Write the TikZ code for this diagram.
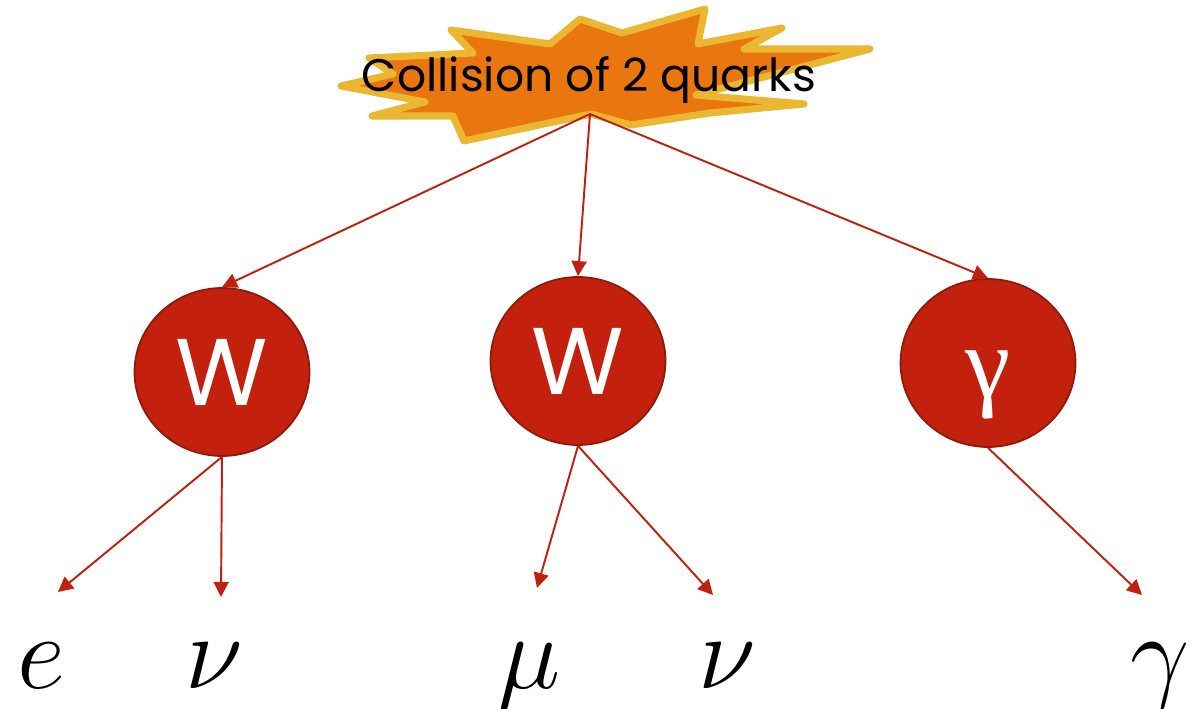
\documentclass[tikz,border=0pt]{standalone}
\usepackage{fix-cm}
\usepackage{fontspec}
\newfontfamily\gothic{Poppins}
\newfontfamily\greekserif{Liberation Serif}
\usetikzlibrary{arrows.meta, shapes.geometric}

\definecolor{burstfill}{HTML}{E9760F}
\definecolor{burstedge}{HTML}{ECB730}
\definecolor{bosonfill}{HTML}{C3200E}
\definecolor{bosonedge}{HTML}{8E1A0B}
\definecolor{arrowred}{HTML}{C0200F}

\begin{document}
\begin{tikzpicture}[x=0.02cm, y=-0.02cm,
    >={Triangle[length=0.3cm, width=0.3cm]},
    boson/.style={ellipse, draw=bosonedge, line width=1pt, fill=bosonfill,
        minimum width=3.5cm, minimum height=3.36cm, inner sep=0pt, text=white},
    decay/.style={->, draw=arrowred, line width=1.1pt},
    particle/.style={anchor=base, font=\fontsize{60}{60}\selectfont}]
    \useasboundingbox (0,0) rectangle (1199,709);

    % 碰撞
    \draw[fill=burstfill, draw=burstedge, line width=4pt, line join=round]
        (451,30) -- (550,44) -- (580,19) -- (622,33) -- (705,9) -- (698,44)
        -- (782,28) -- (744,49) -- (870,49) -- (696,95) -- (804,104)
        -- (710,113) -- (631,125) -- (591,114) -- (464,141) -- (453,116)
        -- (372,116) -- (425,102) -- (341,86) -- (393,74) -- (369,58)
        -- (473,53) -- cycle;
    \node[anchor=base, font=\gothic\fontsize{26}{26}\selectfont] (coll) at (589,92) {Collision of 2 quarks};
    \coordinate (hit) at (590,114);

    % 玻色子
    \node[boson, font=\gothic\fontsize{54}{54}\selectfont] (w1) at (222,372) {W};
    \node[boson, font=\gothic\fontsize{54}{54}\selectfont] (w2) at (578,361) {W};
    \node[boson, font=\greekserif\fontsize{58}{58}\selectfont, text height=1.4cm, text depth=0pt] (gam) at (988,363) {γ};

    \draw[decay] (hit) -- (w1.north);
    \draw[decay] (hit) -- (w2.north);
    \draw[decay] (hit) -- (gam.north);

    % 末态粒子
    \node[particle] (e) at (41,688) {$e$};
    \node[particle] (nu1) at (214,688) {$\nu$};
    \node[particle] (mu) at (530,688) {$\mu$};
    \node[particle] (nu2) at (727,688) {$\nu$};
    \node[particle] (gout) at (1160,688) {$\gamma$};

    \coordinate (te) at (58,592);
    \coordinate (tnu1) at (221,597);
    \coordinate (tmu) at (537,588);
    \coordinate (tnu2) at (713,595);
    \coordinate (tg) at (1142,595);

    \draw[decay] (w1.south) -- (te);
    \draw[decay] (w1.south) -- (tnu1);
    \draw[decay] (w2.south) -- (tmu);
    \draw[decay] (w2.south) -- (tnu2);
    \draw[decay] (gam.south) -- (tg);
\end{tikzpicture}
\end{document}
